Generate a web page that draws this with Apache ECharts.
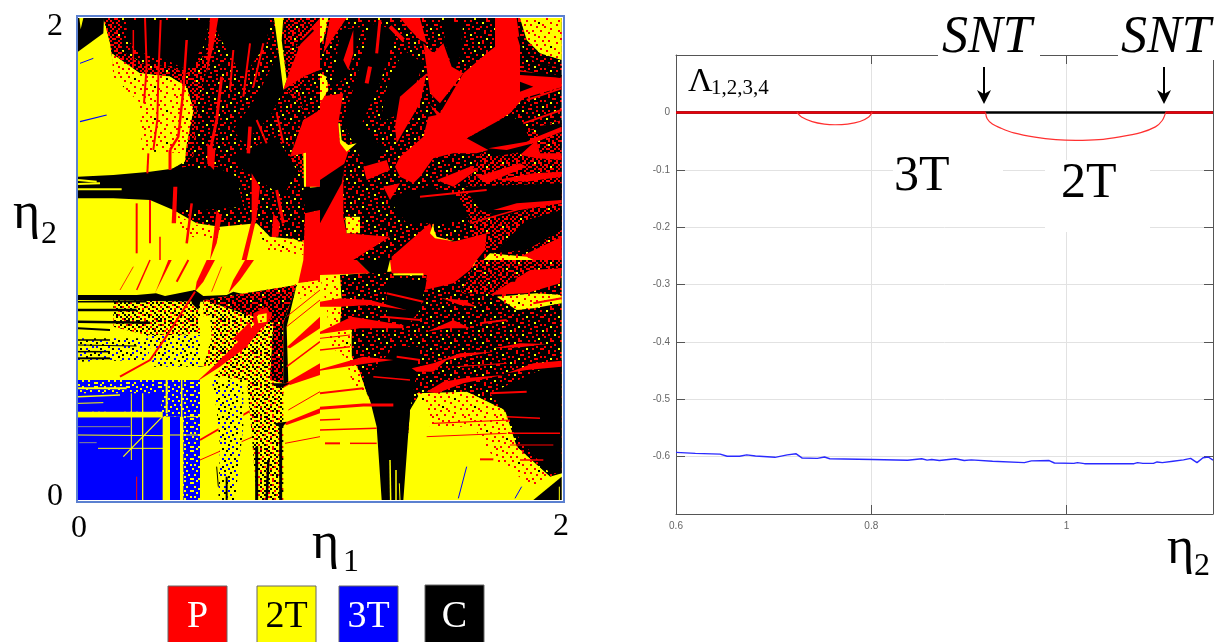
<!DOCTYPE html>
<html><head><meta charset="utf-8">
<style>html,body{margin:0;padding:0;background:#fff}#c{width:1215px;height:642px}</style>
<script src="https://cdn.jsdelivr.net/npm/echarts@6/dist/echarts.min.js"></script>
</head><body><div id="c"></div>
<script>
// Regime map regions, quadrant by quadrant.
// Each entry: [regime, "a,b a,b ...", optional stripe width]. Regime: R=P Y=2T B=3T K=C,
// M/N=C+P speckle, O=2T+P speckle, D=2T+C speckle, G=3T+2T speckle, Q=2T+3T+C speckle, A=thin grey.
const shapesNW = [
["Y","24,24 750,24 750,750 24,750"],
["N","100,24 750,24 750,530 350,480 345,455 350,400 370,300 350,230 300,200 210,190 130,170 120,100"],
["O","125,130 210,190 300,200 350,230 370,300 350,400 345,430 250,425 240,300 190,260 130,200"],
["O","190,190 300,200 340,230 330,300 330,400 250,420 215,420 210,300"],
["M","150,24 420,24 420,120 350,190 300,170 220,160 150,120"],
["K","170,30 420,30 400,110 350,180 290,150 220,130 170,90"],
["M","430,100 640,24 650,240 700,300 660,440 720,530 700,700 600,650 500,620 380,620 310,600 300,480 370,440 380,300"],
["K","560,260 640,100 640,240 600,320 520,400 490,360"],
["K","420,24 600,24 590,100 520,200 470,120"],
["K","24,500 130,495 240,485 350,470 440,480 440,600 310,600 240,570 130,565 24,565"],
["Y","24,510 80,515",2],["Y","24,522 90,520",2],["Y","24,538 155,538",2],
["M","310,600 380,640 450,650 560,640 600,680 700,690 750,700 750,540 700,530 440,470"],
["K","330,480 440,470 500,500 520,590 400,600 320,600"],
["K","480,440 620,380 680,480 640,560 520,480"],
["O","290,600 380,645 450,655 450,690 360,680"],
["O","560,645 600,685 700,695 700,735 590,720"],
["R","190,60 190,160",1.5],["R","225,24 230,170 222,280",2],["R","272,30 265,200 262,330 250,420",2],
["R","350,90 340,240 325,380 300,420",2.5],["R","455,200 440,330 415,450",3],["R","540,100 520,260",2],
["R","490,120 480,240",2],["R","580,100 550,230",2],["R","300,420 300,480",3],["R","235,430 232,490",2],
["R","540,350 535,430",3.5],["R","620,310 640,400",2],["R","560,330 590,400",2],["R","620,540 640,640",3],
["R","420,24 445,24 430,110 410,190"],["R","412,400 436,420 432,480 412,460"],
["R","545,490 570,530 560,620 530,750 515,750 545,630"],["R","440,600 455,620 440,700 420,750 430,680"],
["R","310,530 322,530 318,640 305,640"],["R","610,610 630,640 625,680 605,680"],
["R","365,580 350,700",2.5],["R","240,570 240,700",2],["R","200,580 200,730",2],["R","270,680 270,750",1.5],
["Y","612,24 640,24 635,90 650,210 640,240 625,120"],
["R","750,24 700,80 660,180 640,240 700,200 750,180"],["K","680,110 730,60",2],
["M","700,200 750,180 750,300 700,330 660,440 700,300 690,250"],
["R","750,300 700,330 660,440 700,430 705,530 750,530"],["Y","700,430 708,428 708,530 702,530"],
["K","700,535 750,530 750,600 705,610"],
["R","705,610 750,600 750,750 700,750"],
["B","30,160 70,145",1],["B","30,335 110,315",1.2],
["K","24,24 102,24 100,70 24,125"],["Y","28,24 40,24 32,58"]
];
const shapesNE = [
["M","0,24 725,24 725,750 0,750"],
["N","500,400 725,330 725,720 480,720 420,560"],
["K","150,40 230,60 180,220 130,330 100,400 70,340 110,200"],
["K","90,370 130,340 190,420 150,500 120,440"],
["K","60,60 130,50 80,200 40,230"],
["K","250,120 310,160 260,300 180,340 200,230"],
["K","370,30 430,40 420,140 360,310 330,240 395,170 375,100"],
["K","200,560 330,530 410,560 450,620 380,640 330,640 260,640"],
["K","440,385 530,335 570,315 610,340 640,420 520,440"],
["K","430,530 725,520 725,570 540,620 480,600"],
["K","620,630 725,600 725,660 620,720 520,730"],
["K","640,350 725,340 725,370 660,380"],
["R","0,260 70,250 55,340 60,400 85,425 70,470 70,620 80,670 210,680 100,750 0,750"],
["K","0,510 75,460 65,520 0,640"],
["Y","55,340 60,400 80,425 110,400 85,405 65,390 60,340"],
["R","525,24 590,24 600,95 600,180 725,205 725,232 610,265 570,310 530,335 440,385 505,420 470,430 400,430 340,445 300,500 280,520 240,500 225,470 240,440 310,380 325,320 350,315 330,285 360,310 430,190 500,130 525,110"],
["R","240,24 300,24 320,100 300,90 270,60"],["R","310,100 340,130 370,100 395,170 430,190 360,280 330,250"],
["R","180,30 170,130",3],["R","150,170 140,220",4],["R","210,50 250,90",4],
["R","30,24 80,24 35,90 10,130"],["R","70,150 100,60 100,130 85,180"],
["R","240,260 320,190 300,280 230,400 225,350"],["R","130,470 200,450 210,480 140,510"],["R","190,530 240,520 210,570"],
["R","505,415 620,395 640,385 725,350 725,365 640,400 560,420"],["R","600,435 650,390 660,430 725,430 725,450 650,445"],
["R","530,510 640,490 725,485 725,500 620,515"],["R","520,600 590,580 725,570 725,580 600,600"],
["R","470,500 600,460 620,470 500,520"],["R","350,510 450,470 470,480 400,530"],
["R","300,560 500,540",2],["R","450,640 660,580",1.5],["R","610,340 725,300",2],["R","620,270 725,235",2],
["R","215,740 330,640 345,680 400,695 500,670 495,720 470,750 215,750"],
["Y","340,640 330,670 345,685 410,695 350,680 342,660"],
["R","580,750 725,680 725,750"],["O","490,750 510,730 620,740 640,750"],
["O","75,620 120,620 120,670 80,670"],
["O","600,24 725,24 725,150 660,130 620,90"],
["K","600,185 725,195 725,203 600,195"],["K","600,215 640,230 600,245"],
["K","595,80 610,130 660,160 725,170",2],
["O","0,24 25,24 10,90 0,100"],["O","0,190 20,200 25,240 0,280"]
];
const shapesSW = [
["Y","24,0 750,0 750,720 24,720"],
["R","410,0 435,0 400,65 375,95 380,65"],["R","525,0 552,0 510,60 475,100 490,60"],["R","295,0 305,0 275,60 255,100"],
["R","240,0 200,90",1.5],["R","355,0 320,65",2],["R","190,20 150,90",0.8],["R","455,20 425,95",0.8],
["R","700,0 750,0 750,60 680,90"],["O","640,100 680,70 750,60 750,90 660,130"],
["D","130,115 390,115 390,220 250,230 130,200"],["Q","230,225 390,225 390,320 240,320 260,270"],["Q","24,235 250,235 230,300 24,305"],
["K","24,105 200,105 258,100 285,108 375,90 400,108 470,105 490,95 530,105 680,75 660,120 400,125 24,120"],
["K","24,125 230,125",1.5],["K","24,150 200,150",2.5],["K","24,185 240,188",2.5],["K","24,205 120,210",2],
["K","24,240 120,240",1.5],["K","24,255 200,258",1],["K","24,275 120,275",1.5],["K","24,295 120,295",2],
["D","400,120 680,75 640,190 640,370 530,360 430,350 470,310 390,320 420,220 400,170"],
["N","400,120 680,75 640,190 640,370 600,360 610,190"],
["K","680,75 640,190 640,370 655,370 650,200"],["K","370,90 395,110 385,150 365,130"],
["Y","395,170 420,165 425,230 400,320 390,310"],
["R","380,365 440,310 530,220 590,150 605,160 570,210 530,260 450,320"],
["R","550,160 590,140 605,170 580,205 550,190"],["O","560,165 590,160 590,185 565,190"],["R","490,235 540,185 545,215 510,250"],
["R","150,350 240,300 285,235 375,95",2],["R","280,470 385,365",1.5],["R","390,540 640,395",2],["R","390,600 640,490",1],["R","600,400 655,370",3],
["R","750,170 750,205 660,265 650,262"],["R","750,310 750,345 660,375 650,368"],["R","750,445 750,460 650,495 640,490"],
["R","750,90 650,170",1],["R","750,245 650,320",1.5],["R","750,120 650,200",1],["R","750,395 655,450",1],["R","750,530 645,550",1],
["G","24,360 390,360 390,720 340,720 340,470 280,470 24,470"],
["B","24,400 280,400 270,455 24,455"],["B","24,472 278,472 278,720 24,720"],["B","300,470 330,470 330,720 300,720"],
["Y","24,455 278,455 278,472 24,472"],["Y","280,470 300,470 300,720 280,720"],
["Y","24,385 170,385",2],["Y","24,410 150,405",1.5],["Y","24,430 100,428",1],
["Y","218,400 218,720",1.3],["Y","184,400 184,600",1],["Y","24,525 280,527",1],["Y","84,565 280,565",1],["Y","275,472 160,590",1.2],
["Y","290,360 290,460",2],["Y","335,360 335,720",1.5],["Y","350,470 390,470",1],["Y","300,525 390,525",1],
["A","24,500 180,500",1],["A","28,548 80,548",1],["R","200,650 200,720",1],
["Q","425,360 520,360 520,500 495,720 445,720 450,560 440,450"],
["D","530,360 640,370 640,720 560,720 545,520"],
["K","560,560 560,720",3],["K","595,600 590,720",2.5],["K","632,490 632,720",3],["K","470,650 470,720",2],["K","440,620 445,680",1],
["K","600,370 660,370 630,385"],["K","610,490 650,485 635,505"]
];
const shapesSE = [
["Y","0,0 725,0 725,720 0,720"],
["M","60,45 725,0 725,640 690,650 590,560 550,450 450,400 300,400 270,450 265,520 160,440 140,400 120,340 95,290 95,210 60,190 65,120"],
["O","0,50 50,45 65,120 60,190 90,215 95,290 120,340 140,400 100,380 75,290 30,260 20,140"],
["O","290,400 440,395 555,450 590,560 690,650 640,680 525,600 460,500 330,500 320,450"],
["R","0,0 110,0 150,40 0,45"],["K","110,0 210,0 200,40 150,40"],
["R","210,0 470,0 450,30 400,70 315,90 320,45 215,40"],["Y","220,40 310,40 310,46 220,46"],
["K","220,260 300,260 280,400 270,450 250,720 185,720 170,500 150,420 130,360 190,300"],
["K","200,60 320,60 300,150 260,200 200,170"],
["R","200,100 310,125",2],["R","190,170 300,180",2],["R","230,290 300,300",2],["R","160,350 270,360",1.5],
["Y","210,600 212,720",1.5],["Y","228,630 228,720",1.5],["Y","238,670 240,720",1],
["K","510,400 725,300 725,640 690,640 600,540 560,460"],["K","640,720 725,650 725,720"],["Y","718,680 718,720",1],
["R","0,125 60,115 150,120 260,150 150,135 60,140 0,140"],["R","0,215 95,170 250,195 250,205 120,205 0,222"],
["R","0,328 130,290 220,300 130,312 0,332"],
["R","0,400 130,385",2],["R","0,445 130,435 220,435",3],["R","0,480 60,478",1.5],["R","0,510 170,505",1.5],
["R","15,550 60,550",2],["R","90,550 170,550",1.5],["R","0,270 90,260",1.5],["R","0,235 90,225",1],
["R","275,325 340,310 420,280 520,275 380,300 340,335 290,335"],["R","560,340 640,310 725,302 725,320 620,330"],
["R","320,215 400,180 450,205 380,205"],["R","520,265 600,250 680,252 600,262"],["R","365,115 430,120 470,140 420,135"],
["R","320,395 370,365 430,355 550,345 430,370 350,400"],
["R","480,190 560,180",2],["R","340,490 570,480",1.2],["R","320,530 560,520",1],["R","510,400 620,395",2],
["R","560,470 660,475",1.5],["R","570,520 720,520",1.5],["R","570,555 700,555",1.2],["R","600,600 670,600",1.5],["R","410,320 560,310",1],
["N","470,0 725,0 725,30 630,30 510,105 470,100 420,100"],
["R","510,105 630,30 725,25 720,70 620,100"],["K","570,65 590,50 585,65"],
["O","530,110 650,100 725,105 725,130 640,145 590,150"],["R","640,130 725,115",2],
["B","440,620 415,715",1],["B","605,680 585,715",1],["R","480,598 520,598",2]
];
const solidColours = {R:'#ff0000',Y:'#ffff00',B:'#0000ff',K:'#000000',A:'#8a8a8a'};
const tileM = ["KKRKKKKKRKKKKRKK","KKKKRRKKKKKYKKKK","RKKKKKKKRKKKKKRK","KKKYKKRKKKKRRKKK","KRKKKKKKKRKKKKKK","KRKKKRKKKKKKRKKY","KKKKKKKKRRKKKKKK","KKRKKYKKKKKKRKKR","RKKKKKKRKKRKKKKK","KKKRKKKKKKKKKYKK","KKKRRKKKRKKRKKKK","KYKKKKKKKKKKKKRK","KKKKKRKKKRRKKKKK","RKKRKKKKKKKKRKKK","KKKKKKKYKKRKKKRR","KKRKKRKKKKKKKKKK"];
const tileN = ["RKRRKKRKKRRKKRKK","KKRKKRRKRKKYKRRK","RRKKRKKRKKRRKKRK","KRKYKKRKRRKKRKKR","RKKRRKKRKKKRKRRK","KRRKKKRKKRRKKKRK","KKRKRKKRRKKRKYKK","RKKKRRKKKRKRKKRR","KRYKKRKRKKRKKRKK","RKKRKKRKKRRKKRKK","KRRKKRKRKKKRRKKR","KKKRRKKKRKRKKKRK","RKRKKKRRKKKRKRKK","KRKKYKKRKRKKRRKR","RKKRKRKKRKKRKKKK","KRRKKRKRKKRKRKRK"];
const tileO = ["YYRYYYYYRYYYYYYY","YYYYYYYYYYYRYYYY","RYYYYRYYYYYYYRYY","YYYYYYYYRYYYYYYY","YYRYYYYYYYYRYYYR","YYYYYYRYYYYYYYYY","RYYYYYYYYRYYRYYY","YYYKYYYYYYYYYYYY","YYYYYRYYYRYYYYRY","YRYYYYYYYYYYYYYY","YYYYYYYRYYYRYYYY","YYYRYYYYYYYYYKYY","YYYYYYRYYRYYYYYR","RYYYYYYYYYYYRYYY","YYYRYYYYYYYYYYYY","YYYYYYYRYYRYYYRY"];
const tileD = ["KYRYKKYYRKYYKYRK","YYKYYRKYYYKRYKYY","KRYYKYYKRYYYKYYR","YYKYYKRYYKYRYYKY","KYYRYYYKYYKYKRYY","YKRYKYKYYRYYYKYK","YYYKYYRYKYYKYYRY","KRYYKKYYYKRYKYKY","YYKYYYRKYYYKYYYK","RYYKRYYYKRYYKRYY","YKYYYKYRYYKYYYKY","KYRYKYYKYYYRKYYR","YYKYYRKYYKYYYKYY","KYYKYYYRKYKRYYKY","YRYYKRYYYYKYKYYK","KYKYYYKYRYYYYRKY"];
const tileG = ["BBYBBBBYBBBBYBBB","YBBBYBBBBYBBBBBY","BBBBBBYBBBBYBBBB","BYBBYBBBYBBBBYBB","BBBYBBBBBBYBBBBB","YBBBBBYBBBBBYBBY","BBYBBBBBYBBBBBBB","BBBBYBBBBBBYBYBB","BYBBBBYBBYBBBBBY","BBBYBBBBBBBBYBBB","YBBBBBBYBBYBBBBB","BBYBBYBBBBBBBYBB","BBBBBBBBYBBYBBBB","BYBBYBBBBBBBBBYB","BBBBBBYBBYBBYBBB","YBBYBBBBBBBBBBBY"];
const tileQ = ["YYBYYYKYYYBYYYYK","YKYYYYYYBYYYYKYY","YYYYBYYYYYYKYYYY","BYYKYYYBYYYYYBYY","YYYYYYYYYKYYBYYY","YYBYYKYYYYYYYYYB","KYYYYYBYYYKYYYYY","YYYBYYYYYBYYYKYY","YBYYYYKYYYYYBYYY","YYYYKYYYYBYYYYYK","YYBYYYYYYYYKYYBY","KYYYYBYYKYYYYYYY","YYYKYYYYYYBYYKYY","BYYYYYBYYYYYYYBY","YYKYYYYYKYYBYYYY","YYYYBYYYYYYYKYYY"];
const tiles = {M:tileM,N:tileN,O:tileO,D:tileD,G:tileG,Q:tileQ};

// Lyapunov exponents on the right panel
const blueEta = [0.6,0.6198,0.6452,0.6524,0.6651,0.6724,0.6814,0.7014,0.714,0.7231,0.7293,0.7448,0.7521,0.7575,0.801,0.8372,0.8517,0.8572,0.8619,0.8698,0.8861,0.8952,0.9024,0.9242,0.9568,0.964,0.9822,0.9876,1.0075,1.0111,1.0184,1.0691,1.0727,1.0782,1.089,1.0927,1.0981,1.109,1.1198,1.1271,1.1336,1.1398,1.1452,1.15];
const blueVal = [-0.5926,-0.5944,-0.5957,-0.5994,-0.5994,-0.5969,-0.5988,-0.6012,-0.5969,-0.5951,-0.6025,-0.6031,-0.6006,-0.6037,-0.6049,-0.6062,-0.6037,-0.6062,-0.6049,-0.6068,-0.6037,-0.6068,-0.6056,-0.608,-0.6105,-0.6074,-0.6068,-0.6111,-0.6117,-0.6105,-0.6123,-0.6123,-0.6105,-0.6117,-0.6117,-0.6093,-0.6105,-0.608,-0.6056,-0.6031,-0.6105,-0.6019,-0.6006,-0.6062];
const dip3TEta = [0.7238,0.7286,0.7395,0.752,0.7629,0.7757,0.7884,0.7974,0.801];
const dip3TVal = [0,-0.008,-0.016,-0.0204,-0.0216,-0.0204,-0.016,-0.008,0];
const dip2TEta = [0.917,0.9187,0.924,0.933,0.946,0.9676,0.989,1.0093,1.033,1.0545,1.076,1.091,1.098,1.1016];
const dip2TVal = [0,-0.0111,-0.0203,-0.0277,-0.0358,-0.0432,-0.0475,-0.0487,-0.0475,-0.0426,-0.0352,-0.0253,-0.0142,0];
const zeroBlackEta = [0.6,1.15];
const zeroBlackVal = [0,0];
const zeroRedLeftEta = [0.6,0.917];
const zeroRedRightEta = [1.1016,1.15];
const zeroRedVal = [0,0];
const legendLabels = ['P','2T','3T','C'];
const legendColours = ['#ff0000','#ffff00','#0000ff','#000000'];
const legendText = ['#ffffff','#000000','#ffffff','#ffffff'];

const zip = (a,b)=>a.map((v,i)=>[v,b[i]]);
const rgb = {R:'#ff0000',Y:'#ffff00',B:'#0000ff',K:'#000000'};
function makePattern(rows){
  const n=rows.length,s=2,cv=document.createElement('canvas');
  cv.width=cv.height=n*s;
  const g=cv.getContext('2d');
  rows.forEach((r,y)=>{for(let x=0;x<n;x++){g.fillStyle=rgb[r[x]];g.fillRect(x*s,y*s,s,s);}});
  return {image:cv,repeat:'repeat'};
}
const fills = Object.assign({},solidColours);
Object.keys(tiles).forEach(k=>{fills[k]=makePattern(tiles[k]);});
const quadrants=[[shapesNW,70,10],[shapesNE,320,10],[shapesSW,70,260],[shapesSE,320,260]];
const regions=[];
quadrants.forEach(([list,ox,oy])=>list.forEach(s=>{
  regions.push({c:s[0],w:s[2],pts:s[1].split(' ').map(p=>{
    const q=p.split(',').map(Number);
    return [(ox+q[0]/3-78)/242.5,(501-(oy+q[1]/3))/242];
  })});
}));
const SERIF = '"Liberation Serif",serif';
const txt=(x,y,t,size,extra)=>({type:'text',z:20,x,y,style:Object.assign({text:t,font:size+'px '+SERIF,fill:'#000',textAlign:'left',textVerticalAlign:'middle'},extra||{})});
const legendX=[168,257,339,425];
const graphic=[
 {type:'rect',z:15,shape:{x:77,y:16,width:487,height:486},style:{fill:'none',stroke:'#5b80d0',lineWidth:2}},
 {type:'rect',z:15,shape:{x:893,y:155,width:110,height:50},style:{fill:'#fff'}},
 {type:'rect',z:15,shape:{x:1045,y:160,width:105,height:72},style:{fill:'#fff'}},
 {type:'rect',z:15,shape:{x:938,y:10,width:102,height:50},style:{fill:'#fff'}},
 {type:'rect',z:15,shape:{x:1118,y:10,width:97,height:50},style:{fill:'#fff'}},
 txt(47,27,'2',32), txt(47,497,'0',32), txt(71,529,'0',32), txt(553,527,'2',32),
 txt(13,214,'η',52), txt(41,235,'2',32),
 txt(312,544,'η',52), txt(343,563,'1',32),
 txt(1167,549,'η',52), txt(1194,567,'2',32),
 txt(942,38,'SNT',52,{font:'italic 52px '+SERIF}),
 txt(1121,38,'SNT',52,{font:'italic 52px '+SERIF}),
 txt(894,177,'3T',50), txt(1061,184,'2T',50),
 txt(688,82,'Λ',34), txt(711,88,'1,2,3,4',21)
];
[984,1164].forEach(x=>{
 graphic.push({type:'line',z:20,shape:{x1:x,y1:67,x2:x,y2:96},style:{stroke:'#000',lineWidth:2}});
 graphic.push({type:'polygon',z:20,shape:{points:[[x-7,90],[x,104],[x+7,90],[x,94]]},style:{fill:'#000'}});
});
legendLabels.forEach((l,i)=>{
 graphic.push({type:'rect',z:5,shape:{x:legendX[i],y:i===3?585:586,width:59,height:60},style:{fill:legendColours[i],stroke:'#666',lineWidth:1}});
 graphic.push({type:'text',z:6,x:legendX[i]+29.5,y:617,style:{text:l,font:'38px '+SERIF,fill:legendText[i],textAlign:'center',textVerticalAlign:'middle'}});
});
const axisGrey='#555';
const option={
 animation:false,backgroundColor:'#fff',
 graphic,
 grid:[{left:78,top:17,width:485,height:484,show:false},{left:676,top:55,width:537,height:459,show:false}],
 xAxis:[
  {type:'value',gridIndex:0,min:0,max:2,show:false},
  {type:'value',gridIndex:1,min:0.6,max:1.15,interval:0.2,
   axisLine:{onZero:false,lineStyle:{color:axisGrey}},
   axisTick:{inside:true,length:9,lineStyle:{color:axisGrey}},
   axisLabel:{color:'#666',fontSize:10,fontFamily:'"Liberation Sans",sans-serif',margin:7,showMaxLabel:false,showMinLabel:true},
   splitLine:{show:true,lineStyle:{color:'#e2e2e2'}}},
  {type:'value',gridIndex:1,position:'top',min:0.6,max:1.15,interval:0.2,
   axisLine:{onZero:false,lineStyle:{color:axisGrey}},
   axisTick:{inside:true,length:9,lineStyle:{color:axisGrey}},
   axisLabel:{show:false},splitLine:{show:false}}
 ],
 yAxis:[
  {type:'value',gridIndex:0,min:0,max:2,show:false},
  {type:'value',gridIndex:1,min:-0.7,max:0.1,interval:0.1,
   axisLine:{onZero:false,lineStyle:{color:axisGrey}},
   axisTick:{inside:true,length:9,lineStyle:{color:axisGrey}},
   axisLabel:{color:'#666',fontSize:10,fontFamily:'"Liberation Sans",sans-serif',margin:6,showMinLabel:false,showMaxLabel:false},
   splitLine:{show:true,lineStyle:{color:'#e2e2e2'}}},
  {type:'value',gridIndex:1,position:'right',min:-0.7,max:0.1,interval:0.1,
   axisLine:{onZero:false,lineStyle:{color:axisGrey}},
   axisTick:{inside:true,length:9,lineStyle:{color:axisGrey}},
   axisLabel:{show:false},splitLine:{show:false}}
 ],
 series:[
  {type:'custom',xAxisIndex:0,yAxisIndex:0,clip:true,silent:true,z:1,
   data:regions.map((r,i)=>[r.pts[0][0],r.pts[0][1],i]),
   renderItem:(params,api)=>{
     const r=regions[params.dataIndex];
     const points=r.pts.map(p=>api.coord(p));
     if(r.w) return {type:'polyline',shape:{points},style:{stroke:fills[r.c],lineWidth:r.w,fill:null}};
     return {type:'polygon',shape:{points},style:{fill:fills[r.c],stroke:null}};
   }},
  {type:'line',xAxisIndex:1,yAxisIndex:1,data:zip(zeroBlackEta,zeroBlackVal),showSymbol:false,lineStyle:{color:'#000',width:2.5},z:3},
  {type:'line',xAxisIndex:1,yAxisIndex:1,data:zip(zeroRedLeftEta,zeroRedVal),showSymbol:false,lineStyle:{color:'#e8000b',width:2.5},z:4},
  {type:'line',xAxisIndex:1,yAxisIndex:1,data:zip(zeroRedRightEta,zeroRedVal),showSymbol:false,lineStyle:{color:'#e8000b',width:2.5},z:4},
  {type:'line',xAxisIndex:1,yAxisIndex:1,data:zip(dip3TEta,dip3TVal),showSymbol:false,smooth:0.3,lineStyle:{color:'#ff3030',width:1.2},z:4},
  {type:'line',xAxisIndex:1,yAxisIndex:1,data:zip(dip2TEta,dip2TVal),showSymbol:false,smooth:0.3,lineStyle:{color:'#ff3030',width:1.2},z:4},
  {type:'line',xAxisIndex:1,yAxisIndex:1,data:zip(blueEta,blueVal),showSymbol:false,lineStyle:{color:'#2a2aff',width:1.4},z:4}
 ]
};
const chart=echarts.init(document.getElementById('c'),null,{renderer:'canvas'});
chart.setOption(option);
</script></body></html>
